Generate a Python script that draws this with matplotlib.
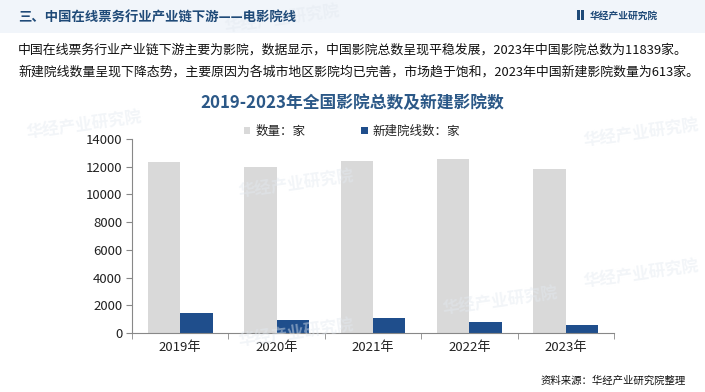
import matplotlib
matplotlib.use("Agg")
import matplotlib.pyplot as plt
import numpy as np
from matplotlib.patches import Rectangle

plt.rcParams['font.family'] = ['Noto Sans CJK SC', 'DejaVu Sans']

years = ['2019年', '2020年', '2021年', '2022年', '2023年']
total_cinemas = [12330, 11990, 12420, 12560, 11839]
new_cinemas = [1440, 940, 1080, 800, 613]
yticks = [0, 2000, 4000, 6000, 8000, 10000, 12000, 14000]
series_names = ['数量：家', '新建院线数：家']

header = '三、中国在线票务行业产业链下游——电影院线'
para1 = '中国在线票务行业产业链下游主要为影院，数据显示，中国影院总数呈现平稳发展，2023年中国影院总数为11839家。'
para2 = '新建院线数量呈现下降态势，主要原因为各城市地区影院均已完善，市场趋于饱和，2023年中国新建影院数量为613家。'
chart_title = '2019-2023年全国影院总数及新建影院数'
source = '资料来源：华经产业研究院整理'
brand = '华经产业研究院'

W, H = 705, 392
fig = plt.figure(figsize=(W / 100, H / 100), dpi=100)
fig.patch.set_facecolor('white')

# header band
fig.patches.append(Rectangle((0, 1 - 33 / H), 1, 33 / H, transform=fig.transFigure,
                             facecolor='#f1f5fa', edgecolor='none', zorder=0))

# watermarks
for (wx, wy) in [(0.12, 0.68), (0.42, 0.53), (0.42, 0.15), (0.71, 0.23), (0.91, 0.66), (0.91, 0.30), (0.40, 0.95)]:
    fig.text(wx, wy, brand, fontsize=12, color='#e3e9f0', rotation=8, ha='center', va='center',
             fontweight='bold', alpha=0.45, zorder=0)

fig.text(18 / W, 1 - 17 / H, header, fontsize=9.6, fontweight='bold', color='#1f4a78',
         ha='left', va='center')
# logo
fig.patches.append(Rectangle((577 / W, 1 - 20 / H), 2.5 / W, 10 / H, transform=fig.transFigure,
                             facecolor='#1f4a78', edgecolor='none'))
fig.patches.append(Rectangle((581 / W, 1 - 20 / H), 2.5 / W, 10 / H, transform=fig.transFigure,
                             facecolor='#1f4a78', edgecolor='none'))
fig.text(590 / W, 1 - 15.5 / H, brand, fontsize=7, color='#1f4a78', ha='left', va='center',
         fontweight='bold')

fig.text(18 / W, 1 - 50 / H, para1, fontsize=9.3, color='#111111', ha='left', va='center')
fig.text(18 / W, 1 - 72 / H, para2, fontsize=9.3, color='#111111', ha='left', va='center')

fig.text(352 / W, 1 - 103 / H, chart_title, fontsize=12.1, fontweight='bold', color='#2b5887',
         ha='center', va='center')

ax = fig.add_axes([132 / W, 1 - 333 / H, (614 - 132) / W, (333 - 139) / H])
ax.set_facecolor('none')
x = np.arange(len(years))
bw = 0.337
b1 = ax.bar(x - bw / 2, total_cinemas, width=bw, color='#d9d9d9', label=series_names[0], zorder=2)
b2 = ax.bar(x + bw / 2, new_cinemas, width=bw, color='#1f4e8c', label=series_names[1], zorder=2)
ax.set_xlim(-0.5, len(years) - 0.5)
ax.set_ylim(0, 14000)
ax.set_yticks(yticks)
ax.set_yticklabels([str(v) for v in yticks], fontsize=9.5, color='#222222')
ax.set_xticks(x)
ax.set_xticklabels(years, fontsize=9.5, color='#222222')
ax.set_xticks(np.arange(-0.5, len(years), 1.0), minor=True)
ax.tick_params(axis='x', which='major', length=0, pad=6)
ax.tick_params(axis='x', which='minor', length=4, color='#888888', direction='out')
ax.tick_params(axis='y', length=4, color='#888888', direction='out', pad=3)
for s in ['top', 'right']:
    ax.spines[s].set_visible(False)
for s in ['left', 'bottom']:
    ax.spines[s].set_color('#888888')
    ax.spines[s].set_linewidth(0.8)

leg = fig.legend(handles=[b1, b2], labels=series_names, loc='center', ncol=2,
                 bbox_to_anchor=(352 / W, 1 - 131 / H), frameon=False, fontsize=9,
                 handlelength=0.5, handleheight=0.5, columnspacing=4.5, handletextpad=0.4)
for t in leg.get_texts():
    t.set_color('#222222')

fig.text(686 / W, 1 - 381 / H, source, fontsize=7.5, color='#111111', ha='right', va='center')

fig.savefig('out.png', dpi=100, facecolor='white')
